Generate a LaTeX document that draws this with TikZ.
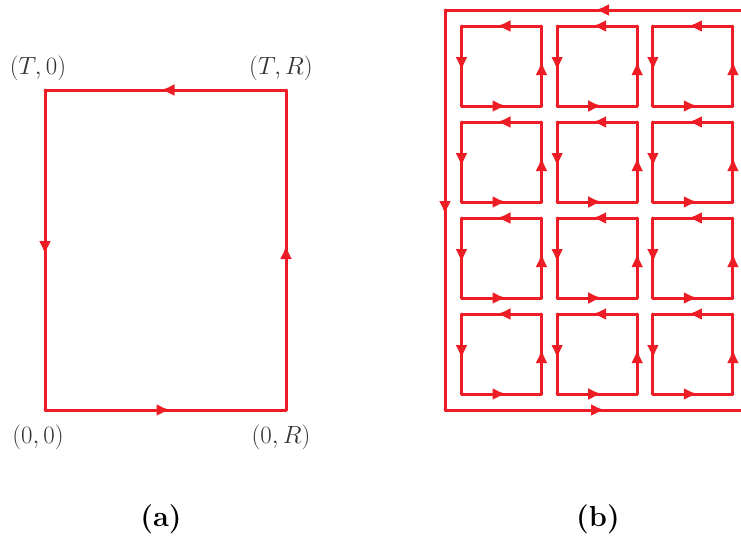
\documentclass[tikz,border=0pt]{standalone}
\usetikzlibrary{arrows.meta,decorations.markings}
\definecolor{loopRed}{HTML}{EE1D25}
\begin{document}
\begin{tikzpicture}[x=1pt,y=-1pt,>={Latex[length=14pt,width=12pt]},line cap=round,line join=round]
\useasboundingbox (0,0) rectangle (741,539);
\clip (0,0) rectangle (741,539);
\tikzset{loopline/.style={draw=loopRed,line width=3pt},
  midarrow/.style={postaction={decorate},decoration={markings,mark=at position 0.5 with {\arrow[loopRed,xshift=5pt]{>}}}},
  corner/.style={font=\fontsize{23.5}{28}\selectfont,text=black!80},
  caption/.style={font=\fontsize{29}{34}\selectfont\bfseries}}
% (a) the single contour
\coordinate (aBL) at (45,410); \coordinate (aBR) at (286,410);
\coordinate (aTL) at (45,90); \coordinate (aTR) at (286,90);
\draw[loopline,midarrow] (aTR) -- (aTL);
\draw[loopline,midarrow] (aTL) -- (aBL);
\draw[loopline,midarrow] (aBL) -- (aBR);
\draw[loopline,midarrow] (aBR) -- (aTR);
\node[corner] (labTL) at (38,68) {$(T,0)$};
\node[corner] (labTR) at (281,68) {$(T,R)$};
\node[corner] (labBL) at (38,437) {$(0,0)$};
\node[corner] (labBR) at (281,437) {$(0,R)$};
% (b) outer contour and small loops
\coordinate (bTR) at (755,10); \coordinate (bTL) at (445,10);
\coordinate (bBL) at (445,410); \coordinate (bBR) at (755,410);
\draw[loopline,midarrow] (bTR) -- (bTL);
\draw[loopline,midarrow] (bTL) -- (bBL);
\draw[loopline,midarrow] (bBL) -- (bBR);
\foreach \i in {0,1,2} {
  \foreach \j in {0,1,2,3} {
    \pgfmathsetmacro{\xl}{461.5+95.7*\i}
    \pgfmathsetmacro{\yt}{26+96*\j}
    \coordinate (tl\i\j) at (\xl,\yt);
    \coordinate (tr\i\j) at (\xl+80,\yt);
    \coordinate (bl\i\j) at (\xl,\yt+80);
    \coordinate (br\i\j) at (\xl+80,\yt+80);
    \draw[loopline,midarrow] (tr\i\j) -- (tl\i\j);
    \draw[loopline,midarrow] (tl\i\j) -- (bl\i\j);
    \draw[loopline,midarrow] (bl\i\j) -- (br\i\j);
    \draw[loopline,midarrow] (br\i\j) -- (tr\i\j);
  }
}
\node[caption] (capA) at (161,519) {(a)};
\node[caption] (capB) at (598,519) {(b)};
\end{tikzpicture}
\end{document}
